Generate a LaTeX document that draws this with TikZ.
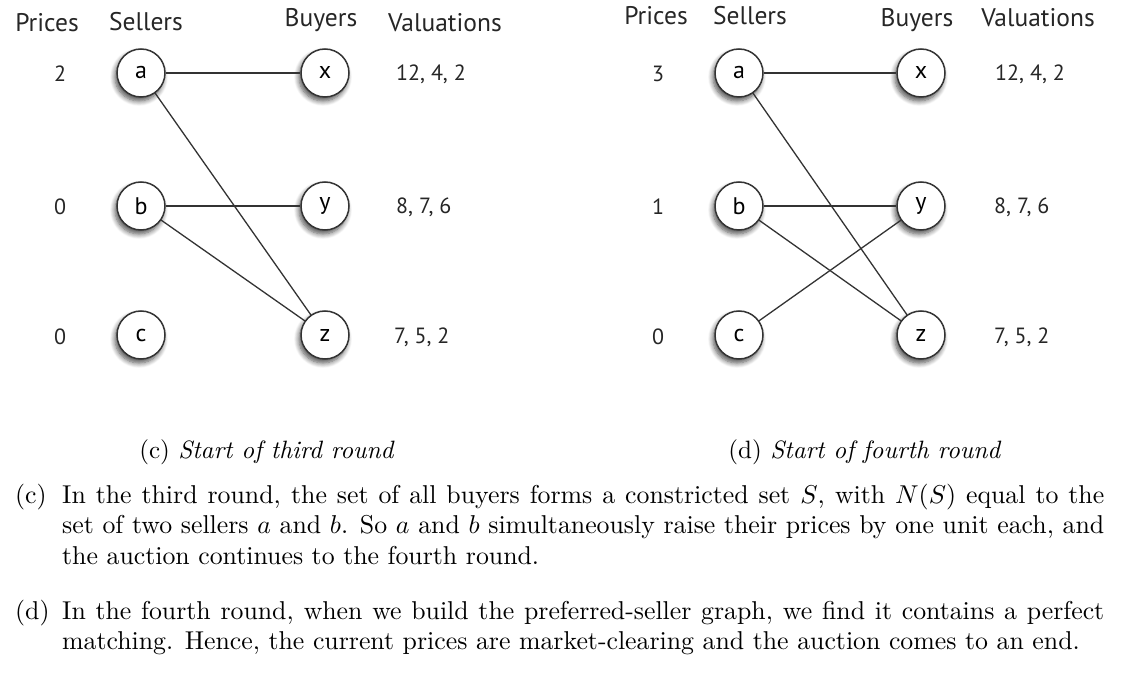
\documentclass[tikz,border=0pt]{standalone}
\usepackage{fontspec}
\usepackage{graphicx}
\newfontfamily\gfont{PT Sans}
\usetikzlibrary{shadows.blur}
\newcommand{\txtscale}{2.58}
\newcommand{\capscale}{2.51}
\begin{document}
\begin{tikzpicture}[x=1pt,y=-1pt,
  vtx/.style={circle,draw=black!80,line width=1.5pt,fill=white,minimum size=48pt,inner sep=0pt,
    font=\gfont\fontsize{24}{24}\selectfont,
    blur shadow={shadow xshift=-2pt,shadow yshift=-4pt,shadow blur radius=5pt,shadow blur steps=8,shadow opacity=70}},
  hdr/.style={font=\gfont\fontsize{25.5}{26}\selectfont,text=black!85,anchor=base,inner sep=0pt},
  num/.style={font=\gfont\fontsize{22}{22}\selectfont,text=black!85,inner sep=0pt},
  link/.style={draw=black!80,line width=1.3pt},
  txt/.style={anchor=base west,inner sep=0pt},
  captext/.style={anchor=base,inner sep=0pt}]
\useasboundingbox (0,0) rectangle (1132,676);
% ---------- left graph (c)
\node[hdr] (lp) at (47,32) {Prices};
\node[hdr] (ls) at (146,31) {Sellers};
\node[hdr] (lb) at (321,27) {Buyers};
\node[hdr] (lv) at (445,32) {Valuations};
\node[num] (lp1) at (60,74) {2};
\node[num] (lp2) at (60,207) {0};
\node[num] (lp3) at (60,337) {0};
\node[vtx] (la) at (141,73) {a};
\node[vtx] (lb1) at (141,206) {b};
\node[vtx] (lc) at (141,335) {c};
\node[vtx] (lx) at (325,73) {x};
\node[vtx] (ly) at (325,206) {y};
\node[vtx] (lz) at (325,335) {z};
\node[num,anchor=west] (lv1) at (396,74) {12, 4, 2};
\node[num,anchor=west] (lv2) at (396,207) {8, 7, 6};
\node[num,anchor=west] (lv3) at (394,337) {7, 5, 2};
\draw[link] (la) -- (lx);
\draw[link] (la) -- (lz);
\draw[link] (lb1) -- (ly);
\draw[link] (lb1) -- (lz);
% ---------- right graph (d)
\node[hdr] (rp) at (656,25) {Prices};
\node[hdr] (rs) at (750,25) {Sellers};
\node[hdr] (rb) at (917,27) {Buyers};
\node[hdr] (rv) at (1038,27) {Valuations};
\node[num] (rp1) at (658,74) {3};
\node[num] (rp2) at (658,207) {1};
\node[num] (rp3) at (658,337) {0};
\node[vtx] (ra) at (739,73) {a};
\node[vtx] (rb1) at (739,206) {b};
\node[vtx] (rc) at (739,335) {c};
\node[vtx] (rx) at (921,73) {x};
\node[vtx] (ry) at (921,206) {y};
\node[vtx] (rz) at (921,335) {z};
\node[num,anchor=west] (rv1) at (995,74) {12, 4, 2};
\node[num,anchor=west] (rv2) at (994,207) {8, 7, 6};
\node[num,anchor=west] (rv3) at (994,337) {7, 5, 2};
\draw[link] (ra) -- (rx);
\draw[link] (ra) -- (rz);
\draw[link] (rb1) -- (ry);
\draw[link] (rb1) -- (rz);
\draw[link] (rc) -- (ry);
% ---------- captions
\node[captext] (capc) at (267,458) {\scalebox{\capscale}{\fontsize{10}{12}\selectfont (c) \textit{Start of third round}}};
\node[captext] (capd) at (865,458) {\scalebox{\capscale}{\fontsize{10}{12}\selectfont (d) \textit{Start of fourth round}}};
% ---------- paragraphs
\node[txt] (pcl) at (15,503) {\scalebox{\txtscale}{\fontsize{10}{12}\selectfont (c)}};
\node[txt] (pc) at (62,503) {\scalebox{\txtscale}{\parbox[t]{403.9pt}{\fontsize{10}{12}\selectfont
In the third round, the set of all buyers forms a constricted set $S$, with $N(S)$ equal to the\linebreak
set of two sellers $a$ and $b$. So $a$ and $b$ simultaneously raise their prices by one unit each, and\linebreak
the auction continues to the fourth round.}}};
\node[txt] (pdl) at (15,619) {\scalebox{\txtscale}{\fontsize{10}{12}\selectfont (d)}};
\node[txt] (pd) at (62,619) {\scalebox{\txtscale}{\parbox[t]{403.9pt}{\fontsize{10}{12}\selectfont
In the fourth round, when we build the preferred-seller graph, we find it contains a perfect\linebreak
matching. Hence, the current prices are market-clearing and the auction comes to an end.}}};
\end{tikzpicture}
\end{document}
